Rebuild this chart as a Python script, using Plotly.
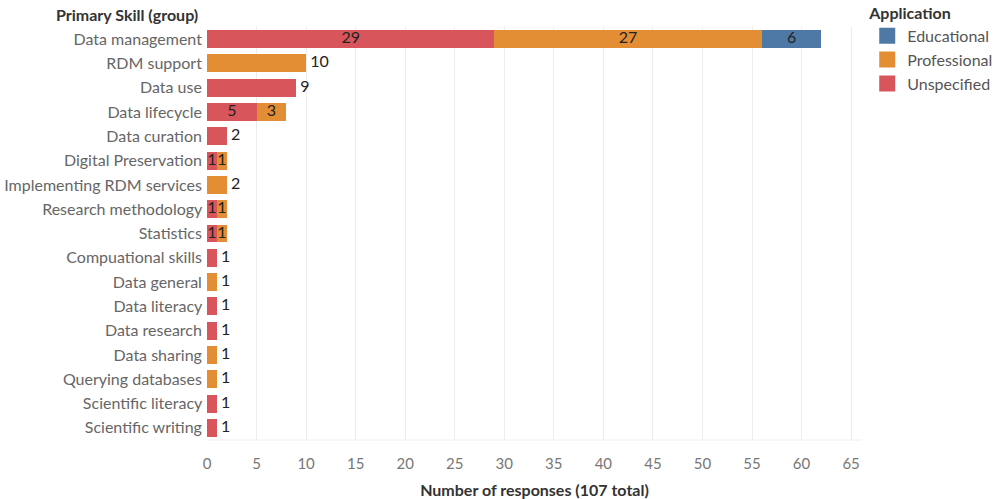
import plotly.graph_objects as go

categories = ["Data management", "RDM support", "Data use", "Data lifecycle", "Data curation",
              "Digital Preservation", "Implementing RDM services", "Research methodology",
              "Statistics", "Compuational skills", "Data general", "Data literacy",
              "Data research", "Data sharing", "Querying databases", "Scientific literacy",
              "Scientific writing"]
unspecified = [29, 0, 9, 5, 2, 1, 0, 1, 1, 1, 0, 1, 1, 0, 0, 1, 1]
professional = [27, 10, 0, 3, 0, 1, 2, 1, 1, 0, 1, 0, 0, 1, 1, 0, 0]
educational = [6, 0, 0, 0, 0, 0, 0, 0, 0, 0, 0, 0, 0, 0, 0, 0, 0]
x_ticks = list(range(0, 66, 5))

series = [("Unspecified", unspecified, "#d8565b"),
          ("Professional", professional, "#e38d35"),
          ("Educational", educational, "#4e79a7")]

FONT = "Lato, Open Sans, sans-serif"
fig = go.Figure()
for name, vals, col in series:
    fig.add_trace(go.Bar(
        y=categories, x=vals, name=name, orientation="h",
        marker=dict(color=col, line=dict(width=0)),
        hoverinfo="x+y+name", showlegend=False,
    ))

# legend entries with larger square swatches
for name, vals, col in series:
    fig.add_trace(go.Scatter(
        x=[None], y=[None], mode="markers", name=name,
        marker=dict(symbol="square", size=19, color=col),
        showlegend=True,
    ))

# labels
totals = [u + p + e for u, p, e in zip(unspecified, professional, educational)]
nseg = [sum(1 for v in (u, p, e) if v > 0) for u, p, e in zip(unspecified, professional, educational)]
in_x, in_y, in_t = [], [], []
out_x, out_y, out_t = [], [], []
for i, c in enumerate(categories):
    if nseg[i] > 1:
        base = 0
        for _, vals, _ in series:
            v = vals[i]
            if v > 0:
                in_x.append(base + v / 2)
                in_y.append(c)
                in_t.append(str(v))
            base += v
    else:
        out_x.append(totals[i])
        out_y.append(c)
        out_t.append(str(totals[i]))

fig.add_trace(go.Scatter(x=in_x, y=in_y, text=in_t, mode="text", textposition="middle center",
                         textfont=dict(family=FONT, size=16, color="#222"), showlegend=False,
                         hoverinfo="skip"))
fig.add_trace(go.Scatter(x=out_x, y=out_y, text=[" " + t for t in out_t], mode="text",
                         textposition="middle right",
                         textfont=dict(family=FONT, size=16, color="#222"), showlegend=False,
                         hoverinfo="skip"))

fig.update_layout(
    width=997, height=499,
    barmode="stack", bargap=0.26,
    plot_bgcolor="white", paper_bgcolor="white",
    margin=dict(l=207, r=135, t=27, b=59, autoexpand=False),
    font=dict(family=FONT, size=16, color="#666"),
    legend=dict(
        title=dict(text="<b>Application</b>", font=dict(family=FONT, size=16, color="#333")),
        traceorder="reversed", x=1.008, xanchor="left", y=1.07, yanchor="top",
        font=dict(family=FONT, size=16, color="#555"), itemwidth=30,
        tracegroupgap=0, bgcolor="rgba(0,0,0,0)",
    ),
    xaxis=dict(
        range=[0, 66.1], tickvals=x_ticks, showgrid=True, gridcolor="#ececec",
        zeroline=False, showline=False, ticks="outside", ticklen=10,
        tickcolor="rgba(0,0,0,0)", tickfont=dict(size=15, color="#777"),
        title=dict(text="<b>Number of responses (107 total)</b>",
                   font=dict(family=FONT, size=16, color="#333"), standoff=13),
        fixedrange=True,
    ),
    yaxis=dict(
        range=[len(categories) - 0.5, -0.5], showgrid=False, ticks="", ticksuffix=" ",
        tickfont=dict(size=16, color="#666"), showline=False,
    ),
    annotations=[dict(
        text="<b>Primary Skill (group)</b>", xref="paper", yref="paper",
        x=-0.01, y=1.031, xanchor="right", yanchor="middle", showarrow=False,
        font=dict(family=FONT, size=16, color="#333"),
    )],
    shapes=[dict(type="line", xref="paper", yref="paper", x0=0, x1=1, y0=0, y1=0,
                 line=dict(color="#eeeeee", width=1))],
)

fig.write_html("out.html", config={"displayModeBar": False},
               post_script="document.body.style.margin='0';")
